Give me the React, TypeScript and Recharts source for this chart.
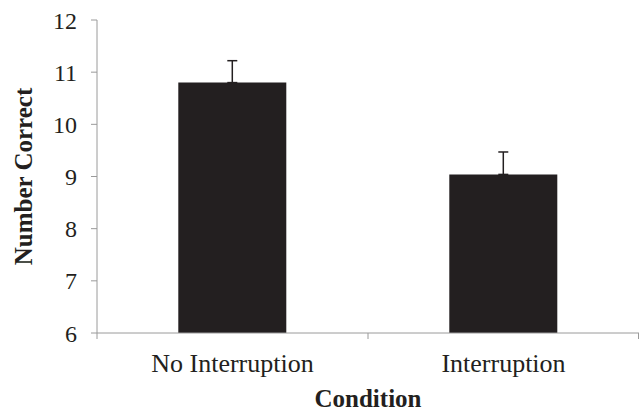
import React from 'react';
import { BarChart, Bar, XAxis, YAxis, ErrorBar, Label } from 'recharts';

const categories = ['No Interruption', 'Interruption'];
const means = [10.8, 9.04];
const errUp = [0.42, 0.43];
const yTicks = [6, 7, 8, 9, 10, 11, 12];

const data = categories.map((c, i) => ({ name: c, value: means[i], err: [0, errUp[i]] }));

const font = '"Liberation Serif", "Times New Roman", serif';
const axisGrey = '#9a9a9a';
const ink = '#231f20';
const X_TICK_SIZE = 6;
const X_TICK_MARGIN = 15;

function CategoryTick(props: any) {
  const { x, y, payload, index, visibleTicksCount, width } = props;
  const half =
    payload && typeof payload.offset === 'number' && payload.offset > 0
      ? payload.offset
      : (width || 0) / (visibleTicksCount || 1) / 2;
  const axisY = y - X_TICK_MARGIN - X_TICK_SIZE;
  const isLast = index === (visibleTicksCount || 1) - 1;
  return (
    <g>
      <line x1={x - half} x2={x - half} y1={axisY} y2={axisY + X_TICK_SIZE} stroke={axisGrey} />
      {isLast && (
        <line x1={x + half - 0.5} x2={x + half - 0.5} y1={axisY} y2={axisY + X_TICK_SIZE} stroke={axisGrey} />
      )}
      <text x={x} y={y} dy="0.71em" textAnchor="middle" fill={ink} fontSize={26} fontFamily={font}>
        {payload.value}
      </text>
    </g>
  );
}

export default function App() {
  return (
    <div style={{ position: 'absolute', left: 0, top: 0, width: 639, height: 414, background: '#fff' }}>
      <BarChart
        width={639}
        height={414}
        data={data}
        margin={{ top: 20, right: 0, bottom: 0, left: 0 }}
        barCategoryGap="30%"
      >
        <XAxis
          dataKey="name"
          height={81}
          tickLine={false}
          axisLine={{ stroke: axisGrey }}
          tickSize={X_TICK_SIZE}
          tickMargin={X_TICK_MARGIN}
          tick={<CategoryTick />}
          interval={0}
        >
          <Label
            value="Condition"
            position="insideBottom"
            offset={7}
            style={{ fill: ink, fontSize: 25, fontWeight: 'bold', fontFamily: font }}
          />
        </XAxis>
        <YAxis
          width={97}
          domain={[6, 12]}
          ticks={yTicks}
          interval={0}
          tickLine={{ stroke: axisGrey }}
          axisLine={{ stroke: axisGrey }}
          tickSize={6}
          tickMargin={14}
          tick={{ fill: ink, fontSize: 24, fontFamily: font }}
        >
          <Label
            value="Number Correct"
            angle={-90}
            position="insideLeft"
            offset={23}
            style={{ textAnchor: 'middle', fill: ink, fontSize: 25, fontWeight: 'bold', fontFamily: font }}
          />
        </YAxis>
        <Bar dataKey="value" fill={ink} isAnimationActive={false}>
          <ErrorBar dataKey="err" direction="y" width={5} stroke={ink} strokeWidth={1.5} />
        </Bar>
      </BarChart>
    </div>
  );
}
